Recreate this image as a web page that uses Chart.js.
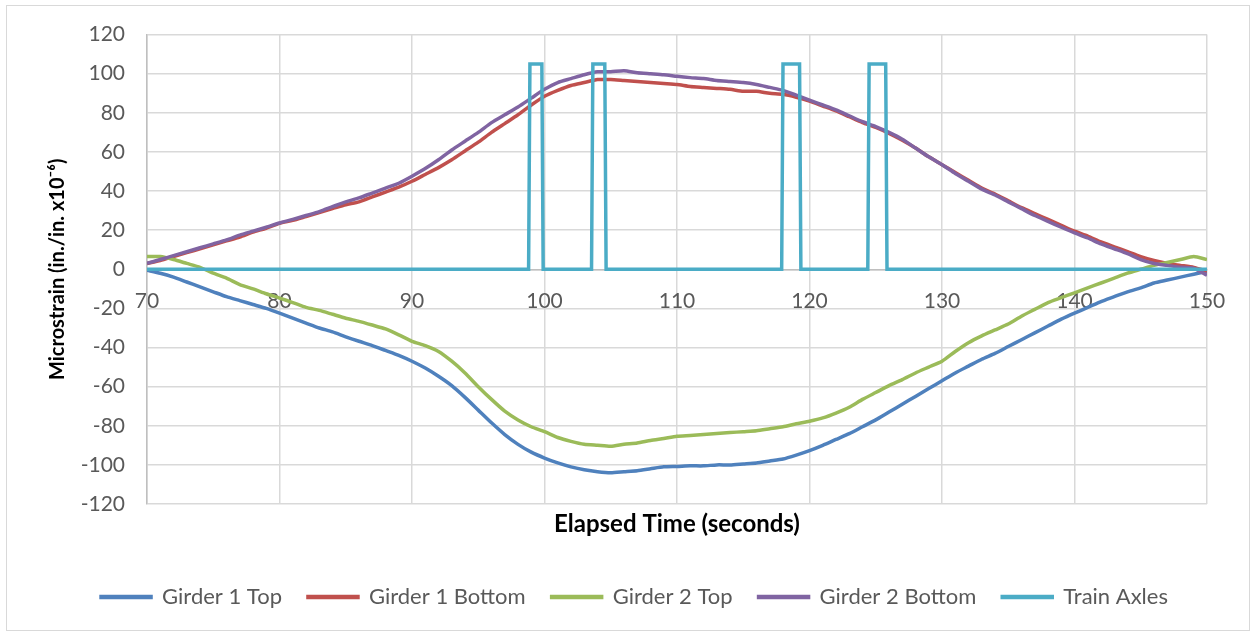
<!DOCTYPE html>
<html>
<head>
<meta charset="utf-8">
<script src="https://cdn.jsdelivr.net/npm/chart.js@4.4.1/dist/chart.umd.min.js"></script>
<style>
  body { margin: 0; background: #fff; }
  #wrap { position: relative; width: 1253px; height: 632px; }
  #frame { position: absolute; left: 6px; top: 5px; width: 1242px; height: 624px; border: 1px solid #d9d9d9; pointer-events: none; }
</style>
</head>
<body>
<div id="wrap">
  <canvas id="myChart" width="1253" height="632"></canvas>
  <div id="frame"></div>
</div>
<script>
// elapsed time, one reading per second
const seconds = [];
for (let t = 70; t <= 150; t++) seconds.push(t);

const girder1Top = [
  -0.5, -2, -4, -6.5, -9, -11.5, -14, -16, -18, -20,
  -22.4, -25, -27.5, -30, -32, -34.5, -36.8, -39, -41.5, -44,
  -47, -50.5, -54.7, -59.5, -65.5, -72, -78.5, -84.5, -89.5, -93.5,
  -96.5, -99, -101, -102.5, -103.5, -104, -103.5, -103, -102, -101,
  -100.8, -100.5, -100.5, -100, -100, -99.5, -99, -98, -97, -95,
  -92.7, -90, -87, -84, -80.5, -77, -73, -69, -65, -61,
  -57, -53, -49.5, -46, -43, -39.5, -36, -32.5, -29, -25.5,
  -22.4, -19.5, -16.5, -14, -11.5, -9.5, -7, -5.5, -4, -2.5,
  -1
];
const girder1Bottom = [
  3, 4.5, 6.5, 8.5, 10.5, 12.5, 14.5, 16.5, 19, 21,
  23.5, 25, 27, 29, 31, 33, 34.5, 37, 39.5, 42,
  45, 48.5, 52, 56, 60.5, 65, 70, 74.5, 79, 84,
  88.5, 91.5, 94, 95.5, 97, 97, 96.5, 96, 95.5, 95,
  94.5, 93.5, 93, 92.5, 92, 91, 91, 90, 89.5, 88,
  86, 83.5, 81, 78, 75, 72.5, 69.5, 66, 62, 57.5,
  53.5, 49.5, 45.5, 41.5, 38.5, 35, 31.5, 28.5, 25.5, 22.5,
  19.5, 17, 14, 11.5, 9, 6.5, 4.5, 3, 2, 1,
  -1
];
const girder2Top = [
  6.6, 6.5, 5, 3, 1, -2, -4.5, -7.8, -10, -12.5,
  -14.7, -17, -19.5, -21, -23, -25, -26.6, -28.5, -30.5, -33.5,
  -36.8, -39, -42, -47, -53, -60, -66.5, -72.5, -77, -80.5,
  -83, -86, -88, -89.5, -90, -90.5, -89.5, -88.8, -87.5, -86.5,
  -85.4, -85, -84.5, -84, -83.5, -83, -82.5, -81.5, -80.5, -79,
  -77.7, -76, -73.5, -70.5, -66.5, -63, -59.5, -56.4, -53, -50,
  -47, -42, -37.5, -34, -31, -28, -24, -20.5, -17, -14.5,
  -12, -9.5, -7, -4.5, -2, 0, 2, 3.5, 5, 6.5,
  5
];
const girder2Bottom = [
  3, 5, 7, 9, 11, 13, 15, 17.5, 19.5, 21.5,
  23.7, 25.5, 27.5, 29.5, 32, 34.5, 36.5, 39, 41.5, 44,
  47.6, 51.5, 56, 61, 65.5, 70, 75, 79, 83, 87.5,
  92, 95.5, 97.5, 99.5, 101, 101, 101.5, 100.5, 100, 99.5,
  98.7, 98, 97.5, 96.5, 96, 95.5, 94.5, 93, 91.5, 89,
  86.5, 84, 81.5, 78.5, 75.5, 73, 70, 66.5, 62, 57.5,
  53.5, 49, 45, 41, 38, 34.5, 31, 27.5, 24.5, 21.5,
  18.6, 16, 13, 10.5, 8, 5, 3, 2, 1, 0.5,
  -3
];

// train axle pulses
const axleTimes = [70, 98.8, 98.9, 99.8, 99.9, 103.55, 103.65, 104.55, 104.65,
  117.9, 118.0, 119.25, 119.35, 124.4, 124.5, 125.75, 125.85, 150];
const axleValues = [0, 0, 105, 105, 0, 0, 105, 105, 0,
  0, 105, 105, 0, 0, 105, 105, 0, 0];

const seriesNames = ["Girder 1 Top", "Girder 1 Bottom", "Girder 2 Top", "Girder 2 Bottom", "Train Axles"];
const seriesColors = ["#4F81BD", "#C0504D", "#9BBB59", "#8064A2", "#4BACC6"];
const xTicks = { min: 70, max: 150, step: 10 };
const yTicks = { min: -120, max: 120, step: 20 };

const pts = (xs, ys) => xs.map((x, i) => ({ x: x, y: ys[i] }));
const allSeries = [
  pts(seconds, girder1Top),
  pts(seconds, girder1Bottom),
  pts(seconds, girder2Top),
  pts(seconds, girder2Bottom),
  pts(axleTimes, axleValues),
];

const ctx = document.getElementById("myChart");
new Chart(ctx, {
  type: "line",
  data: {
    datasets: allSeries.map((d, i) => ({
      label: seriesNames[i],
      data: d,
      borderColor: seriesColors[i],
      backgroundColor: seriesColors[i],
      borderWidth: 3.5,
      pointRadius: 0,
      tension: i === 4 ? 0 : 0.2,
      order: 5 - i,
    })),
  },
  options: {
    responsive: false,
    animation: false,
    layout: { padding: { top: 33, right: 46, left: 62, bottom: 14 } },
    plugins: {
      tooltip: { enabled: false },
      legend: {
        position: "bottom",
        labels: {
          sort: (a, b) => a.datasetIndex - b.datasetIndex,
          boxWidth: 50,
          boxHeight: 1,
          padding: 26,
          color: "#595959",
          font: { family: "Lato", size: 22 },
        },
      },
    },
    scales: {
      x: {
        type: "linear",
        position: { y: 0 },
        min: xTicks.min,
        max: xTicks.max,
        ticks: { stepSize: xTicks.step, color: "#595959", padding: 19, font: { family: "Lato", size: 21 } },
        grid: { color: "#d9d9d9", lineWidth: 1.5, drawTicks: false },
        border: { display: true, color: "#bfbfbf", width: 1.5 },
      },
      xTitle: {
        type: "linear",
        position: "bottom",
        axis: "x",
        min: xTicks.min,
        max: xTicks.max,
        ticks: { display: false },
        grid: { display: false, drawTicks: false },
        border: { display: false },
        title: {
          display: true,
          text: "Elapsed Time (seconds)",
          color: "#000",
          padding: { top: 0, bottom: 21 },
          font: { family: "Lato", size: 24, weight: "bold" },
        },
        afterFit: (scale) => { scale.height = 56; },
      },
      y: {
        min: yTicks.min,
        max: yTicks.max,
        ticks: { stepSize: yTicks.step, color: "#595959", padding: 22, font: { family: "Lato", size: 21 } },
        grid: { color: "#d9d9d9", lineWidth: 1.5, drawTicks: false },
        border: { display: true, color: "#bfbfbf", width: 1.5 },
        title: {
          display: true,
          text: "Microstrain (in./in. x10\u207B\u2076)",
          color: "#000",
          padding: { top: -16, bottom: 0 },
          font: { family: "Lato", size: 20, weight: "bold" },
        },
        afterFit: (scale) => { scale.width = 85; },
      },
    },
  },
});
</script>
</body>
</html>
